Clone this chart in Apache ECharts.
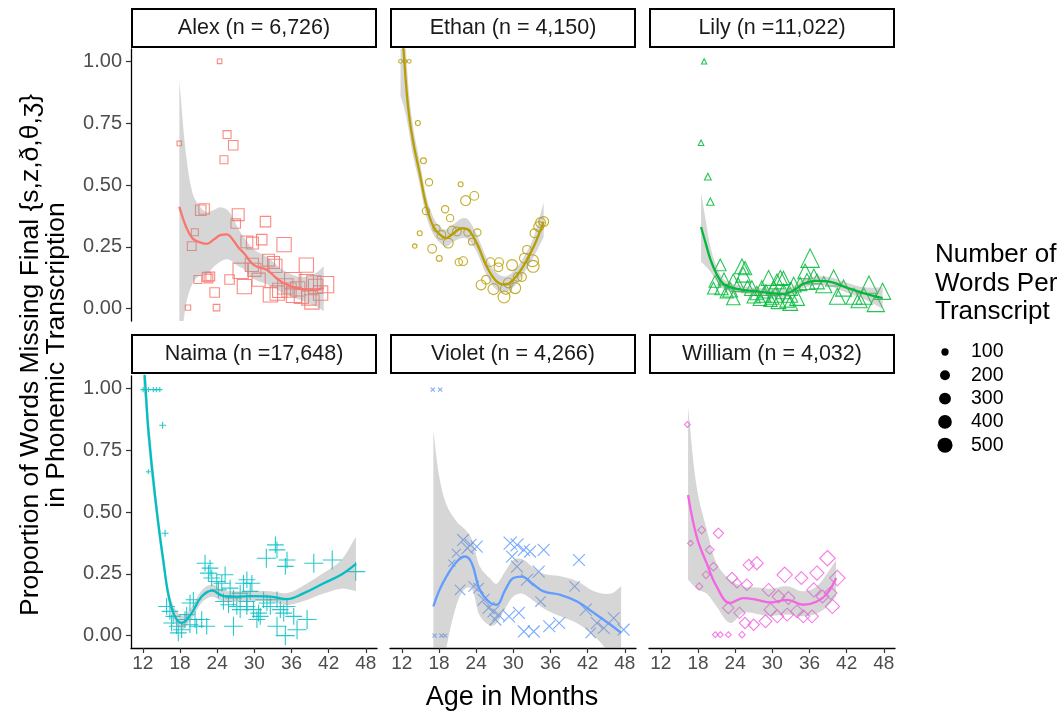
<!DOCTYPE html>
<html><head><meta charset="utf-8">
<script src="https://cdn.jsdelivr.net/npm/echarts@6/dist/echarts.min.js"></script>
<style>html,body{margin:0;padding:0;background:#fff}#c{width:1064px;height:715px}</style>
</head><body><div id="c"></div>
<script>
// ---------- data ----------
const stripLabels = ['Alex (n = 6,726)','Ethan (n = 4,150)','Lily (n =11,022)','Naima (n =17,648)','Violet (n = 4,266)','William (n = 4,032)'];
const colors = ['#F8766D','#B79F00','#00BA38','#00BFC4','#619CFF','#F564E3'];
const xTicks = [12,18,24,30,36,42,48];
const yTicks = [0,0.25,0.5,0.75,1];
const legendWords = [100,200,300,400,500];

// points: [age in months, proportion, words in transcript]
const alexPoints = [[24.4,1.0,20],[17.9,0.668,20],[25.6,0.704,80],[26.6,0.661,120],[25.1,0.602,80],[21.35,0.398,150],[21.9,0.403,150],[27.4,0.38,200],[27.0,0.344,120],[31.8,0.352,150],[20.4,0.309,60],[19.9,0.253,100],[28.8,0.27,200],[29.7,0.265,200],[31.2,0.279,150],[34.8,0.259,300],[29.6,0.177,250],[32.3,0.196,200],[33.1,0.187,200],[33.4,0.173,250],[27.8,0.153,350],[30.0,0.157,250],[38.4,0.176,300],[20.9,0.118,80],[22.3,0.129,100],[22.9,0.13,100],[22.6,0.122,100],[26.0,0.118,120],[30.7,0.117,250],[28.4,0.089,300],[36.2,0.113,400],[35.0,0.09,350],[34.1,0.074,300],[32.6,0.056,300],[33.7,0.063,300],[38.4,0.109,300],[39.6,0.104,300],[39.9,0.09,300],[41.5,0.097,400],[37.6,0.05,300],[38.8,0.043,300],[39.3,0.027,300],[40.7,0.063,300],[23.6,0.065,120],[19.3,0.004,30],[23.9,0.004,50],[36.4,0.056,350],[35.6,0.075,300],[37.0,0.08,300]];
const ethanPoints = [[11.8,1.0,20],[12.5,1.0,20],[13.2,1.0,20],[14.6,0.751,40],[15.5,0.598,60],[16.4,0.511,100],[21.5,0.503,40],[22.3,0.437,200],[23.7,0.456,150],[15.9,0.395,100],[19.0,0.402,100],[19.8,0.366,100],[17.6,0.325,100],[18.4,0.298,150],[19.5,0.265,200],[20.1,0.316,150],[20.9,0.312,150],[14.9,0.305,40],[14.1,0.253,30],[16.9,0.242,150],[18.05,0.203,60],[21.2,0.188,100],[21.9,0.192,150],[22.6,0.308,100],[23.3,0.271,80],[24.2,0.308,100],[26.3,0.188,150],[27.7,0.188,150],[27.6,0.167,150],[29.8,0.176,250],[24.8,0.096,200],[25.6,0.117,150],[26.8,0.079,250],[28.5,0.047,300],[29.2,0.104,200],[30.3,0.083,250],[30.7,0.128,150],[31.4,0.128,150],[31.8,0.204,200],[32.2,0.238,150],[33.1,0.194,300],[33.2,0.171,300],[33.4,0.305,150],[34.1,0.332,200],[34.9,0.352,200],[34.4,0.348,200],[28.8,0.08,250]];
const lilyPoints = [[19.0,1.0,20],[18.5,0.671,25],[19.6,0.534,40],[20.0,0.433,50],[21.6,0.177,150],[20.75,0.11,150],[20.5,0.083,150],[21.8,0.083,200],[22.65,0.07,200],[25.1,0.171,250],[25.6,0.164,200],[25.3,0.137,250],[23.7,0.11,250],[24.5,0.097,200],[23.2,0.077,250],[23.7,0.043,200],[26.7,0.083,250],[27.5,0.063,200],[28.3,0.083,250],[29.4,0.124,250],[28.6,0.056,250],[29.7,0.036,200],[30.2,0.083,250],[30.75,0.11,250],[31.3,0.124,250],[31.8,0.124,200],[30.5,0.056,250],[31.0,0.03,250],[31.8,0.07,250],[32.4,0.036,250],[32.9,0.056,250],[33.45,0.097,250],[34.0,0.043,250],[32.9,0.023,250],[36.1,0.204,400],[35.3,0.151,250],[35.6,0.11,300],[37.2,0.11,250],[38.3,0.097,300],[36.7,0.13,250],[39.9,0.124,300],[40.5,0.05,300],[41.5,0.083,300],[43.2,0.05,300],[44.0,0.036,300],[44.8,0.05,300],[45.6,0.097,350],[46.7,0.023,350],[47.8,0.07,300],[27.0,0.05,200],[28.0,0.04,200],[29.0,0.07,200],[30.0,0.045,200],[33.0,0.08,200],[34.5,0.1,200],[26.0,0.09,150],[22.2,0.12,150]];
const naimaPoints = [[12.05,0.995,20],[12.9,0.995,20],[13.7,0.995,20],[14.2,0.995,20],[14.75,0.995,20],[15.2,0.851,40],[12.9,0.663,15],[15.6,0.414,40],[15.84,0.118,300],[16.38,0.098,300],[16.91,0.078,250],[16.65,0.051,300],[17.46,0.038,250],[17.73,0.011,300],[18.27,0.024,300],[18.81,0.065,300],[19.08,0.085,250],[19.62,0.044,300],[20.43,0.065,300],[20.7,0.038,250],[21.51,0.065,300],[22.32,0.038,300],[19.62,0.132,300],[20.16,0.145,250],[22.05,0.293,300],[22.86,0.273,300],[22.59,0.253,300],[23.13,0.233,300],[23.94,0.219,300],[24.75,0.212,300],[24.21,0.185,300],[25.29,0.246,300],[26.1,0.192,300],[25.02,0.138,300],[25.83,0.125,300],[26.64,0.152,300],[27.72,0.172,300],[28.26,0.212,300],[28.8,0.226,300],[29.61,0.212,300],[29.34,0.179,300],[28.8,0.138,300],[28.8,0.118,300],[27.18,0.118,300],[26.64,0.038,400],[27.72,0.105,300],[29.88,0.105,300],[30.69,0.091,300],[30.42,0.065,300],[30.96,0.078,300],[31.5,0.145,300],[32.04,0.132,300],[32.58,0.118,300],[33.66,0.145,300],[34.2,0.105,300],[34.74,0.091,300],[35.28,0.118,300],[33.66,0.038,400],[36.36,0.078,300],[36.9,0.024,400],[38.52,0.065,400],[35.0,0.0,400],[33.4,0.367,300],[33.66,0.347,300],[31.94,0.313,400],[35.28,0.306,300],[35.01,0.28,300],[39.6,0.293,400],[42.58,0.306,400],[46.36,0.259,400]];
const violetPoints = [[17.0,0.995,15],[18.2,0.995,15],[17.3,0.0,15],[18.4,0.0,15],[19.0,0.0,15],[20.1,0.293,60],[20.8,0.333,100],[21.9,0.387,200],[22.6,0.354,200],[23.1,0.367,200],[24.1,0.36,200],[21.4,0.185,150],[23.6,0.199,150],[24.4,0.192,150],[25.2,0.145,200],[26.0,0.112,200],[26.8,0.098,200],[27.6,0.085,200],[27.1,0.065,200],[29.3,0.078,200],[30.9,0.092,200],[29.5,0.374,250],[30.6,0.367,250],[31.7,0.347,200],[32.7,0.34,200],[34.9,0.347,200],[29.8,0.32,200],[30.6,0.279,200],[32.2,0.226,200],[34.1,0.259,200],[34.4,0.138,150],[31.7,0.017,200],[33.3,0.017,200],[35.8,0.038,200],[37.4,0.051,200],[40.6,0.306,200],[39.9,0.199,150],[41.7,0.105,200],[42.5,0.011,150],[43.5,0.051,200],[44.6,0.031,200],[46.2,0.071,200],[47.8,0.024,200]];
const williamPoints = [[16.3,0.854,30],[16.8,0.374,30],[21.3,0.414,120],[18.6,0.427,60],[19.9,0.347,80],[20.5,0.279,80],[19.3,0.246,60],[18.2,0.199,50],[23.5,0.233,150],[25.9,0.206,150],[24.3,0.212,100],[26.2,0.286,150],[27.5,0.293,200],[22.9,0.112,150],[24.7,0.092,150],[25.6,0.051,150],[27.0,0.044,150],[28.9,0.058,200],[20.8,0.004,30],[21.6,0.004,30],[22.9,0.004,30],[25.1,0.004,40],[29.4,0.185,200],[31.0,0.158,200],[32.6,0.152,200],[32.0,0.246,300],[34.7,0.233,200],[37.2,0.253,250],[38.9,0.313,300],[40.5,0.233,300],[29.7,0.105,200],[30.8,0.078,200],[32.4,0.085,200],[34.0,0.098,200],[36.7,0.185,250],[38.1,0.158,200],[39.4,0.172,200],[39.7,0.118,250],[36.4,0.078,200],[35.0,0.078,200]];

// smooth fits: [age, fit, lower, upper]
const alexFit = [[17.9,0.412,-0.2,0.923],[19,0.33,0.02,0.62],[20,0.285,0.1,0.47],[21,0.27,0.13,0.42],[22.3,0.262,0.14,0.39],[23.5,0.28,0.17,0.4],[24.5,0.297,0.19,0.41],[25.6,0.3,0.2,0.4],[26.5,0.28,0.19,0.37],[27.5,0.245,0.17,0.32],[28.3,0.225,0.16,0.29],[29.9,0.177,0.12,0.24],[32.0,0.157,0.1,0.21],[33.5,0.125,0.08,0.18],[34.7,0.104,0.06,0.155],[36.9,0.083,0.04,0.13],[38.5,0.077,0.025,0.13],[40,0.078,0.01,0.145],[41.2,0.083,-0.01,0.171]];
const ethanFit = [[11.8,1.2,0.86,1.55],[12.3,1.04,0.82,1.25],[13.0,0.82,0.74,0.92],[13.8,0.68,0.62,0.74],[14.9,0.547,0.5,0.595],[16.0,0.412,0.37,0.45],[17.1,0.332,0.3,0.37],[18.2,0.298,0.265,0.33],[19.2,0.285,0.25,0.32],[20.3,0.305,0.27,0.34],[21.7,0.325,0.285,0.365],[22.7,0.319,0.28,0.36],[24.1,0.265,0.23,0.3],[25.7,0.171,0.135,0.205],[27.3,0.11,0.075,0.145],[28.7,0.097,0.065,0.13],[30.0,0.117,0.085,0.15],[31.6,0.171,0.14,0.205],[33.3,0.251,0.21,0.29],[34.9,0.352,0.29,0.43]];
const lilyFit = [[18.5,0.33,0.19,0.47],[19.3,0.26,0.17,0.35],[20,0.2,0.15,0.25],[21,0.14,0.11,0.17],[22.1,0.1,0.08,0.12],[23.5,0.085,0.068,0.102],[25.5,0.075,0.06,0.09],[28,0.068,0.053,0.083],[30,0.062,0.047,0.077],[32,0.06,0.045,0.075],[33.5,0.075,0.058,0.092],[35,0.1,0.083,0.117],[37,0.112,0.095,0.13],[39.4,0.108,0.09,0.126],[42,0.085,0.065,0.105],[44.8,0.062,0.038,0.086],[47.8,0.043,0.0,0.085]];
const naimaFit = [[12.05,1.14,1.02,1.26],[12.5,0.98,0.9,1.06],[12.9,0.83,0.76,0.9],[14.0,0.56,0.51,0.61],[15.3,0.306,0.27,0.34],[16.6,0.118,0.09,0.145],[18.3,0.051,0.025,0.08],[19.9,0.092,0.068,0.116],[21.5,0.158,0.133,0.183],[23.2,0.182,0.157,0.207],[25.0,0.16,0.137,0.183],[27.2,0.158,0.137,0.179],[29.3,0.16,0.14,0.18],[32.6,0.158,0.137,0.179],[35.3,0.148,0.124,0.172],[38.0,0.172,0.14,0.204],[41.2,0.212,0.17,0.254],[44.0,0.246,0.19,0.305],[46.4,0.29,0.18,0.4]];
const violetFit = [[17.1,0.118,-0.5,0.83],[18,0.18,-0.25,0.65],[19.2,0.239,-0.05,0.53],[20.9,0.3,0.13,0.46],[22.2,0.32,0.19,0.43],[23.3,0.293,0.19,0.39],[24.6,0.185,0.08,0.28],[26.3,0.132,0.04,0.23],[27.3,0.125,0.05,0.21],[28.7,0.185,0.11,0.26],[30.0,0.233,0.158,0.306],[31.4,0.239,0.17,0.31],[33.0,0.212,0.145,0.28],[34.9,0.179,0.11,0.25],[37.6,0.165,0.078,0.24],[40.3,0.138,0.05,0.22],[43.0,0.092,0.0,0.18],[45.7,0.044,-0.08,0.17],[47.4,0.011,-0.17,0.2]];
const williamFit = [[16.4,0.569,0.226,0.925],[17.8,0.4,0.19,0.6],[19.4,0.293,0.17,0.43],[21.0,0.199,0.118,0.293],[23.2,0.132,0.051,0.226],[25.3,0.152,0.092,0.199],[27.5,0.145,0.088,0.195],[29.7,0.134,0.08,0.19],[32.4,0.145,0.085,0.2],[35.0,0.125,0.078,0.179],[37.2,0.138,0.09,0.2],[38.9,0.172,0.118,0.253],[40.3,0.233,0.158,0.306]];

// ---------- build ----------
const allPoints = [alexPoints, ethanPoints, lilyPoints, naimaPoints, violetPoints, williamPoints];
const allFits = [alexFit, ethanFit, lilyFit, naimaFit, violetFit, williamFit];
const shapes = ['rect','circle','triangle','path://M5 0L5 10M0 5L10 5','path://M0 0L10 10M10 0L0 10','diamond'];
const shapeScale = [1.2, 1.0, 1.35, 1.4, 1.2, 1.3];
const FONT = '"Liberation Sans", Arial, sans-serif';
const dia = w => 1.0 + 0.63 * Math.sqrt(w);

const colLeft = [131, 390, 649];
const rowTop = [49, 376];
const GW = 246, GH = 272;

function bandRenderer(fit) {
  return function (params, api) {
    if (params.dataIndex !== 0) return null;
    const up = fit.map(f => api.coord([f[0], f[3]]));
    const lo = fit.map(f => api.coord([f[0], f[2]])).reverse();
    const pts = [up[0]].concat(up, [up[up.length - 1], lo[0]], lo, [lo[lo.length - 1]]);
    const cs = params.coordSys;
    return {
      type: 'polygon',
      shape: {points: pts, smooth: 0.35},
      style: {fill: 'rgba(153,153,153,0.4)'},
      clipPath: {type: 'rect', shape: {x: cs.x, y: cs.y, width: cs.width, height: cs.height}}
    };
  };
}

const grids = [], xAxes = [], yAxes = [], series = [], graphics = [];
for (let i = 0; i < 6; i++) {
  const r = Math.floor(i / 3), c = i % 3;
  grids.push({left: colLeft[c], top: rowTop[r], width: GW, height: GH, containLabel: false});
  const showX = r === 1, showY = c === 0;
  xAxes.push({
    type: 'value', gridIndex: i, min: 10.1, max: 49.8,
    axisLine: {show: showX, onZero: false, lineStyle: {color: '#000', width: 1.3}},
    axisTick: {show: showX, customValues: xTicks, length: 5, lineStyle: {color: '#333', width: 1.2}},
    axisLabel: {show: showX, customValues: xTicks, color: '#4d4d4d', fontSize: 19, fontFamily: FONT, margin: 6},
    splitLine: {show: false}
  });
  yAxes.push({
    type: 'value', gridIndex: i, min: -0.05, max: 1.05,
    axisLine: {show: showY, onZero: false, lineStyle: {color: '#000', width: 1.3}},
    axisTick: {show: showY, customValues: yTicks, length: 5, lineStyle: {color: '#333', width: 1.2}},
    axisLabel: {show: showY, customValues: yTicks, color: '#4d4d4d', fontSize: 20, fontFamily: FONT, margin: 9,
      formatter: v => v.toFixed(2)},
    splitLine: {show: false}
  });
  const col = colors[i];
  series.push({
    type: 'scatter', xAxisIndex: i, yAxisIndex: i,
    data: allPoints[i].map(p => [p[0], p[1], p[2]]),
    symbol: shapes[i],
    symbolSize: v => dia(v[2]) * shapeScale[i],
    itemStyle: {color: 'rgba(0,0,0,0)', borderColor: col, borderWidth: 1.1, opacity: 0.85},
    silent: true, z: 2
  });
  series.push({
    type: 'custom', xAxisIndex: i, yAxisIndex: i,
    data: allFits[i].map(f => [f[0], f[2], f[3]]),
    encode: {x: 0, y: [1, 2]},
    renderItem: bandRenderer(allFits[i]),
    silent: true, z: 3
  });
  series.push({
    type: 'line', xAxisIndex: i, yAxisIndex: i,
    data: allFits[i].map(f => [f[0], f[1]]),
    symbol: 'none', smooth: 0.4, lineStyle: {color: col, width: 2.3}, silent: true, z: 4
  });
  // strip header
  const sTop = r === 0 ? 9 : 335;
  graphics.push({type: 'rect', shape: {x: colLeft[c] + 1, y: sTop, width: GW - 2, height: 38},
    style: {fill: '#fff', stroke: '#000', lineWidth: 2}, z: 10});
  graphics.push({type: 'text', x: colLeft[c] + GW / 2, y: sTop + 19,
    style: {text: stripLabels[i], fill: '#1a1a1a', font: '21.5px ' + FONT, textAlign: 'center', textVerticalAlign: 'middle'}, z: 11});
}

// axis titles
graphics.push({type: 'text', x: 512, y: 698, style: {text: 'Age in Months', fill: '#000', font: '27px ' + FONT, textAlign: 'center', textVerticalAlign: 'middle'}});
graphics.push({type: 'text', x: 31, y: 355, rotation: Math.PI / 2, style: {text: 'Proportion of Words Missing Final {s,z,ð,θ,ʒ}', fill: '#000', font: '26.5px ' + FONT, textAlign: 'center', textVerticalAlign: 'middle'}});
graphics.push({type: 'text', x: 57, y: 355, rotation: Math.PI / 2, style: {text: 'in Phonemic Transcription', fill: '#000', font: '26.5px ' + FONT, textAlign: 'center', textVerticalAlign: 'middle'}});

// size legend
['Number of', 'Words Per', 'Transcript'].forEach((t, k) => {
  graphics.push({type: 'text', x: 935, y: 255 + k * 28.5, style: {text: t, fill: '#000', font: '26px ' + FONT, textAlign: 'left', textVerticalAlign: 'middle'}});
});
legendWords.forEach((w, k) => {
  const cy = 352 + k * 23.3;
  graphics.push({type: 'circle', shape: {cx: 945, cy: cy, r: dia(w) / 2}, style: {fill: '#000'}});
  graphics.push({type: 'text', x: 971, y: cy, style: {text: String(w), fill: '#000', font: '19.5px ' + FONT, textAlign: 'left', textVerticalAlign: 'middle'}});
});

const chart = echarts.init(document.getElementById('c'), null, {renderer: 'canvas'});
chart.setOption({
  animation: false,
  backgroundColor: '#fff',
  textStyle: {fontFamily: FONT},
  grid: grids, xAxis: xAxes, yAxis: yAxes, series: series, graphic: graphics
});
</script></body></html>
